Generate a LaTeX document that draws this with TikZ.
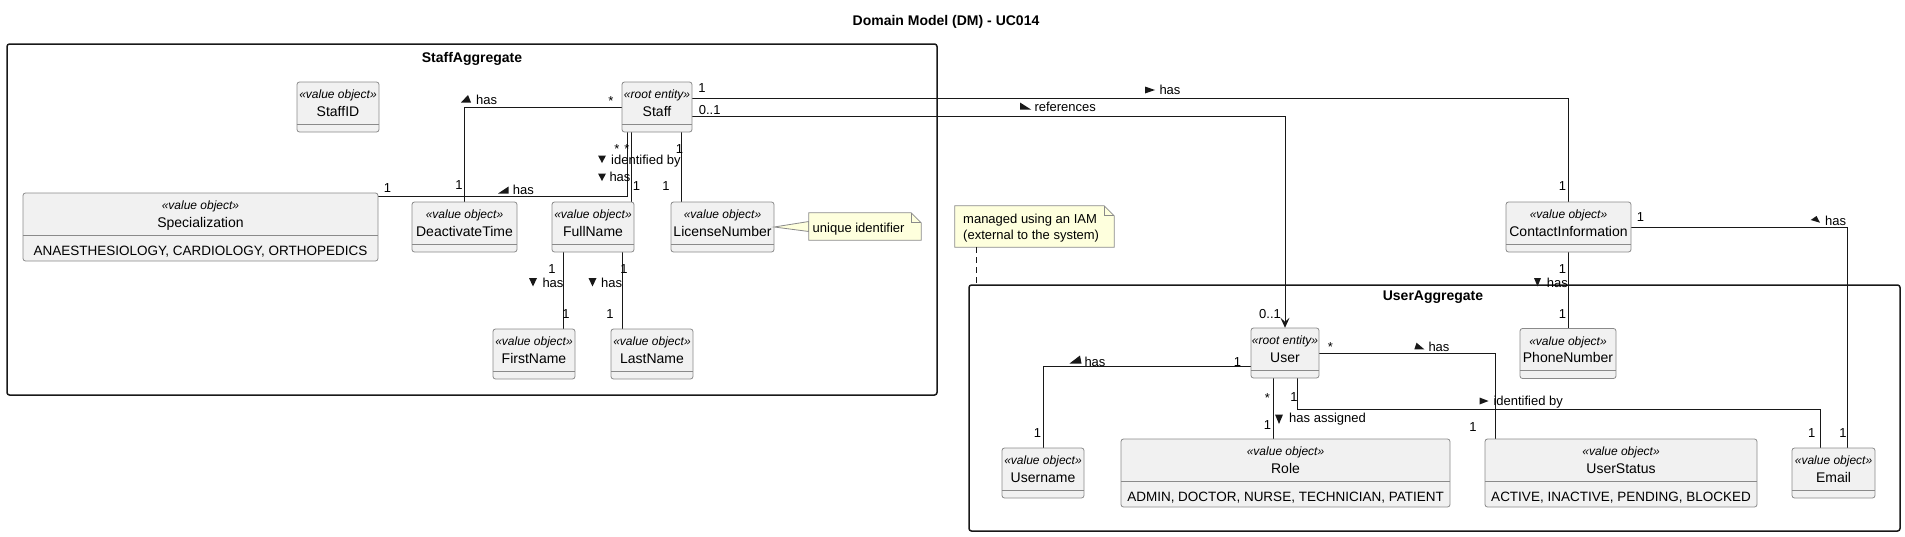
\documentclass[tikz,border=0pt]{standalone}
\usepackage{fontspec}
\setmainfont{Liberation Sans}
\usetikzlibrary{arrows.meta}
\definecolor{classbg}{HTML}{F1F1F1}
\definecolor{umlline}{HTML}{181818}
\definecolor{boxline}{HTML}{8A8A8A}
\definecolor{notebg}{HTML}{FEFFDD}
\begin{document}
\begin{tikzpicture}[x=1pt,y=-1pt,
   cbox/.style={draw=boxline,fill=classbg,line width=0.8pt,rounded corners=2.5pt,inner sep=0pt},
   aggframe/.style={draw=umlline,line width=1.5pt,rounded corners=2.5pt,inner sep=0pt},
   cutline/.style={draw=boxline,line width=0.8pt},
   stereo/.style={font=\fontsize{12}{14}\selectfont\itshape,inner sep=0pt,anchor=base},
   cname/.style={font=\fontsize{14}{16}\selectfont,inner sep=0pt,anchor=base},
   cattr/.style={font=\fontsize{13.5}{16}\selectfont,inner sep=0pt,anchor=base},
   lbl/.style={font=\fontsize{13}{15}\selectfont,inner sep=0pt,anchor=base},
   ttl/.style={font=\fontsize{14}{16}\selectfont\bfseries,inner sep=0pt,anchor=base},
   assoc/.style={draw=umlline,line width=1pt},
   notebox/.style={draw=boxline,fill=notebg,line width=0.8pt},
   noteline/.style={draw=umlline,line width=1pt,dash pattern=on 6pt off 4pt}]
   \useasboundingbox (0,0) rectangle (1905,536);
   \node[ttl] (title) at (946,25) {Domain Model (DM) - UC014};

   % aggregates
   \node[aggframe,minimum width=930pt,minimum height=351pt] (staffagg) at (472,219.5) {};
   \node[ttl] (staffaggT) at (472,62.7) {StaffAggregate};
   \node[aggframe,minimum width=931pt,minimum height=246pt] (useragg) at (1434.5,408) {};
   \node[ttl] (useraggT) at (1433,300) {UserAggregate};

   % connectors
   \node[inner sep=0pt,minimum width=70pt,minimum height=50pt] (staff) at (657,107) {};
   \node[inner sep=0pt,minimum width=355pt,minimum height=68pt] (spec) at (200.5,227) {};
   \node[inner sep=0pt,minimum width=105pt,minimum height=50pt] (deact) at (464.5,227) {};
   \node[inner sep=0pt,minimum width=82pt,minimum height=50pt] (fullname) at (593,227) {};
   \node[inner sep=0pt,minimum width=103pt,minimum height=50pt] (license) at (722.5,227) {};
   \node[inner sep=0pt,minimum width=82pt,minimum height=50pt] (firstname) at (534,354) {};
   \node[inner sep=0pt,minimum width=82pt,minimum height=50pt] (lastname) at (652,354) {};
   \node[inner sep=0pt,minimum width=125pt,minimum height=50pt] (contact) at (1568.5,227) {};
   \node[inner sep=0pt,minimum width=96pt,minimum height=50pt] (phone) at (1568,353.5) {};
   \node[inner sep=0pt,minimum width=68pt,minimum height=50pt] (user) at (1285,353) {};
   \node[inner sep=0pt,minimum width=82pt,minimum height=50pt] (username) at (1043,473) {};
   \node[inner sep=0pt,minimum width=329pt,minimum height=68pt] (role) at (1285.5,473) {};
   \node[inner sep=0pt,minimum width=272pt,minimum height=68pt] (status) at (1621,473) {};
   \node[inner sep=0pt,minimum width=83pt,minimum height=50pt] (email) at (1833.5,473) {};

   \draw[assoc] (staff.west) -| (deact.north);
   \draw[assoc] ([xshift=-30pt]staff.south) |- ([yshift=-4pt]spec.north east);
   \draw[assoc] ([xshift=-26pt]staff.south) -- ([xshift=38pt]fullname.north);
   \draw[assoc] ([xshift=24pt]staff.south) -- ([xshift=-41.5pt]license.north);
   \draw[assoc] ([xshift=-30pt]fullname.south) -- ([xshift=29pt]firstname.north);
   \draw[assoc] ([xshift=29pt]fullname.south) -- ([xshift=-30pt]lastname.north);
   \draw[assoc] ([yshift=9pt]staff.east) -| (contact.north);
   \draw[assoc,-{Stealth[length=10pt,width=9pt,inset=4pt]}] ([yshift=-9pt]staff.east) -| (user.north);
   \draw[assoc] (contact.south) -- (contact.south |- phone.north);
   \draw[assoc] (contact.east) -| ([xshift=13.5pt]email.north);
   \draw[assoc] ([yshift=-13.5pt]user.west) -| (username.north);
   \draw[assoc] ([xshift=-12pt]user.south) -- ([xshift=-12.5pt]role.north);
   \draw[assoc] ([xshift=12pt]user.south) -- ++(0,31) -| ([xshift=-13.5pt]email.north);
   \draw[assoc] (user.east) -| ([xshift=-126pt]status.north);

   % classes
   \node[cbox,minimum width=82pt,minimum height=50pt] (staffid) at (338,107) {};
   \draw[cutline] ([yshift=-42.5pt]staffid.north west) -- ([yshift=-42.5pt]staffid.north east);
   \node[stereo] (staffidS) at ([yshift=-17pt]staffid.north) {«value object»};
   \node[cname] (staffidN) at ([yshift=-34.5pt]staffid.north) {StaffID};

   \node[cbox,minimum width=70pt,minimum height=50pt] at (staff) {};
   \draw[cutline] ([yshift=-42.5pt]staff.north west) -- ([yshift=-42.5pt]staff.north east);
   \node[stereo] (staffS) at ([yshift=-17pt]staff.north) {«root entity»};
   \node[cname] (staffN) at ([yshift=-34.5pt]staff.north) {Staff};

   \node[cbox,minimum width=355pt,minimum height=68pt] at (spec) {};
   \draw[cutline] ([yshift=-42.5pt]spec.north west) -- ([yshift=-42.5pt]spec.north east);
   \node[stereo] (specS) at ([yshift=-17pt]spec.north) {«value object»};
   \node[cname] (specN) at ([yshift=-34.5pt]spec.north) {Specialization};
   \node[cattr] (specA) at ([yshift=-62.5pt]spec.north) {ANAESTHESIOLOGY, CARDIOLOGY, ORTHOPEDICS};

   \node[cbox,minimum width=105pt,minimum height=50pt] at (deact) {};
   \draw[cutline] ([yshift=-42.5pt]deact.north west) -- ([yshift=-42.5pt]deact.north east);
   \node[stereo] (deactS) at ([yshift=-17pt]deact.north) {«value object»};
   \node[cname] (deactN) at ([yshift=-34.5pt]deact.north) {DeactivateTime};

   \node[cbox,minimum width=82pt,minimum height=50pt] at (fullname) {};
   \draw[cutline] ([yshift=-42.5pt]fullname.north west) -- ([yshift=-42.5pt]fullname.north east);
   \node[stereo] (fullnameS) at ([yshift=-17pt]fullname.north) {«value object»};
   \node[cname] (fullnameN) at ([yshift=-34.5pt]fullname.north) {FullName};

   \node[cbox,minimum width=103pt,minimum height=50pt] at (license) {};
   \draw[cutline] ([yshift=-42.5pt]license.north west) -- ([yshift=-42.5pt]license.north east);
   \node[stereo] (licenseS) at ([yshift=-17pt]license.north) {«value object»};
   \node[cname] (licenseN) at ([yshift=-34.5pt]license.north) {LicenseNumber};

   \node[cbox,minimum width=82pt,minimum height=50pt] at (firstname) {};
   \draw[cutline] ([yshift=-42.5pt]firstname.north west) -- ([yshift=-42.5pt]firstname.north east);
   \node[stereo] (firstnameS) at ([yshift=-17pt]firstname.north) {«value object»};
   \node[cname] (firstnameN) at ([yshift=-34.5pt]firstname.north) {FirstName};

   \node[cbox,minimum width=82pt,minimum height=50pt] at (lastname) {};
   \draw[cutline] ([yshift=-42.5pt]lastname.north west) -- ([yshift=-42.5pt]lastname.north east);
   \node[stereo] (lastnameS) at ([yshift=-17pt]lastname.north) {«value object»};
   \node[cname] (lastnameN) at ([yshift=-34.5pt]lastname.north) {LastName};

   \node[cbox,minimum width=125pt,minimum height=50pt] at (contact) {};
   \draw[cutline] ([yshift=-42.5pt]contact.north west) -- ([yshift=-42.5pt]contact.north east);
   \node[stereo] (contactS) at ([yshift=-17pt]contact.north) {«value object»};
   \node[cname] (contactN) at ([yshift=-34.5pt]contact.north) {ContactInformation};

   \node[cbox,minimum width=96pt,minimum height=50pt] at (phone) {};
   \draw[cutline] ([yshift=-42.5pt]phone.north west) -- ([yshift=-42.5pt]phone.north east);
   \node[stereo] (phoneS) at ([yshift=-17pt]phone.north) {«value object»};
   \node[cname] (phoneN) at ([yshift=-34.5pt]phone.north) {PhoneNumber};

   \node[cbox,minimum width=68pt,minimum height=50pt] at (user) {};
   \draw[cutline] ([yshift=-42.5pt]user.north west) -- ([yshift=-42.5pt]user.north east);
   \node[stereo] (userS) at ([yshift=-17pt]user.north) {«root entity»};
   \node[cname] (userN) at ([yshift=-34.5pt]user.north) {User};

   \node[cbox,minimum width=82pt,minimum height=50pt] at (username) {};
   \draw[cutline] ([yshift=-42.5pt]username.north west) -- ([yshift=-42.5pt]username.north east);
   \node[stereo] (usernameS) at ([yshift=-17pt]username.north) {«value object»};
   \node[cname] (usernameN) at ([yshift=-34.5pt]username.north) {Username};

   \node[cbox,minimum width=329pt,minimum height=68pt] at (role) {};
   \draw[cutline] ([yshift=-42.5pt]role.north west) -- ([yshift=-42.5pt]role.north east);
   \node[stereo] (roleS) at ([yshift=-17pt]role.north) {«value object»};
   \node[cname] (roleN) at ([yshift=-34.5pt]role.north) {Role};
   \node[cattr] (roleA) at ([yshift=-62.5pt]role.north) {ADMIN, DOCTOR, NURSE, TECHNICIAN, PATIENT};

   \node[cbox,minimum width=272pt,minimum height=68pt] at (status) {};
   \draw[cutline] ([yshift=-42.5pt]status.north west) -- ([yshift=-42.5pt]status.north east);
   \node[stereo] (statusS) at ([yshift=-17pt]status.north) {«value object»};
   \node[cname] (statusN) at ([yshift=-34.5pt]status.north) {UserStatus};
   \node[cattr] (statusA) at ([yshift=-62.5pt]status.north) {ACTIVE, INACTIVE, PENDING, BLOCKED};

   \node[cbox,minimum width=83pt,minimum height=50pt] at (email) {};
   \draw[cutline] ([yshift=-42.5pt]email.north west) -- ([yshift=-42.5pt]email.north east);
   \node[stereo] (emailS) at ([yshift=-17pt]email.north) {«value object»};
   \node[cname] (emailN) at ([yshift=-34.5pt]email.north) {Email};

   % notes
   \node[inner sep=0pt,minimum width=112pt,minimum height=27pt] (ident) at (865,226.5) {};
   \draw[notebox] (license.east) -- ([yshift=5pt]ident.west) -- ([yshift=-5pt]ident.west) -- cycle;
   \draw[notebox] (ident.north west) -- ([xshift=-10pt]ident.north east) -- ([yshift=-10pt]ident.north east)
      -- (ident.south east) -- (ident.south west) -- cycle;
   \draw[cutline] ([xshift=-10pt]ident.north east) |- ([yshift=-10pt]ident.north east);
   \node[lbl,anchor=base west] (identT) at (812.5,232.5) {unique identifier};

   \node[inner sep=0pt,minimum width=159pt,minimum height=41pt] (iam) at (1034.5,226.5) {};
   \draw[notebox] (iam.north west) -- ([xshift=-10pt]iam.north east) -- ([yshift=-10pt]iam.north east)
      -- (iam.south east) -- (iam.south west) -- cycle;
   \draw[cutline] ([xshift=-10pt]iam.north east) |- ([yshift=-10pt]iam.north east);
   \node[lbl,anchor=base west] (iamA) at (963,223.4) {managed using an IAM};
   \node[lbl,anchor=base west] (iamB) at (963,239.4) {(external to the system)};
   \draw[noteline] ([xshift=22pt]iam.south west) -- ++(0,38);

   % multiplicities and labels
   \node[lbl] (m1) at (611,105) {*};
   \node[lbl] (m2) at (459,189.5) {1};
   \node[lbl,anchor=base west] (l1) at (476,104) {has};
   \fill[umlline] (461,102.5) -- (471,102.5) -- (468,95) -- cycle;
   \node[lbl] (m3) at (387.5,192.5) {1};
   \node[lbl,anchor=base west] (l2) at (512.7,194) {has};
   \fill[umlline] (498,193.5) -- (508.5,193.5) -- (508.5,186.5) -- cycle;
   \node[lbl] (m4) at (617,153.5) {*};
   \node[lbl] (m5) at (627,153.5) {*};
   \node[lbl,anchor=base west] (l3) at (611,164) {identified by};
   \fill[umlline] (598,155.5) -- (606,155.5) -- (602,163) -- cycle;
   \node[lbl,anchor=base west] (l4) at (609.3,181) {has};
   \fill[umlline] (598,173.5) -- (606,173.5) -- (602,181) -- cycle;
   \node[lbl] (m6) at (636.5,190) {1};
   \node[lbl] (m7) at (666,190) {1};
   \node[lbl] (m8) at (679.5,153.3) {1};
   \node[lbl] (m9) at (702,92.7) {1};
   \node[lbl] (m10) at (709.7,114) {0..1};

   \node[lbl] (m11) at (552,273.3) {1};
   \node[lbl,anchor=base west] (l5) at (542.3,287.7) {has};
   \fill[umlline] (529,278) -- (537,278) -- (533,286.5) -- cycle;
   \node[lbl] (m12) at (566,318.3) {1};
   \node[lbl] (m13) at (624,273.3) {1};
   \node[lbl,anchor=base west] (l6) at (601,287.7) {has};
   \fill[umlline] (588.5,278) -- (596.5,278) -- (592.5,286.5) -- cycle;
   \node[lbl] (m14) at (610,318.3) {1};

   \node[lbl,anchor=base west] (l7) at (1159.3,94.5) {has};
   \fill[umlline] (1145,86.5) -- (1145,93.5) -- (1155,90) -- cycle;
   \node[lbl,anchor=base west] (l8) at (1034.3,111) {references};
   \fill[umlline] (1020,102.5) -- (1020,109.5) -- (1031,109.5) -- cycle;
   \node[lbl] (m15) at (1562.5,190) {1};
   \node[lbl] (m16) at (1270,318.3) {0..1};

   \node[lbl] (m17) at (1640.5,221.7) {1};
   \node[lbl,anchor=base west] (l9) at (1825,225) {has};
   \fill[umlline] (1810.7,220) -- (1816.5,216) -- (1820,222.7) -- cycle;
   \node[lbl] (m18) at (1843,437.3) {1};
   \node[lbl] (m19) at (1562.5,273.3) {1};
   \node[lbl,anchor=base west] (l10) at (1546.7,287.3) {has};
   \fill[umlline] (1534,278) -- (1541,278) -- (1537.5,286.5) -- cycle;
   \node[lbl] (m20) at (1562.5,318.3) {1};

   \node[lbl] (m21) at (1237.5,366) {1};
   \node[lbl,anchor=base west] (l11) at (1084.3,366) {has};
   \fill[umlline] (1069.5,363.5) -- (1081.5,363.5) -- (1080,355.5) -- cycle;
   \node[lbl] (m22) at (1037.5,437.7) {1};
   \node[lbl] (m23) at (1267.5,402.3) {*};
   \node[lbl] (m24) at (1267.5,429.3) {1};
   \node[lbl,anchor=base west] (l12) at (1289,422.7) {has assigned};
   \fill[umlline] (1275,414.5) -- (1283,414.5) -- (1279,424) -- cycle;
   \node[lbl] (m25) at (1294,401.7) {1};
   \node[lbl,anchor=base west] (l13) at (1493.3,405.4) {identified by};
   \fill[umlline] (1479.5,397.5) -- (1479.5,404.5) -- (1488.5,401) -- cycle;
   \node[lbl] (m26) at (1811.7,437.3) {1};
   \node[lbl] (m27) at (1330.5,351.6) {*};
   \node[lbl,anchor=base west] (l14) at (1428.3,351.7) {has};
   \fill[umlline] (1416.5,342.7) -- (1414.3,349.3) -- (1424.3,349.3) -- cycle;
   \node[lbl] (m28) at (1473,431.7) {1};
\end{tikzpicture}
\end{document}
